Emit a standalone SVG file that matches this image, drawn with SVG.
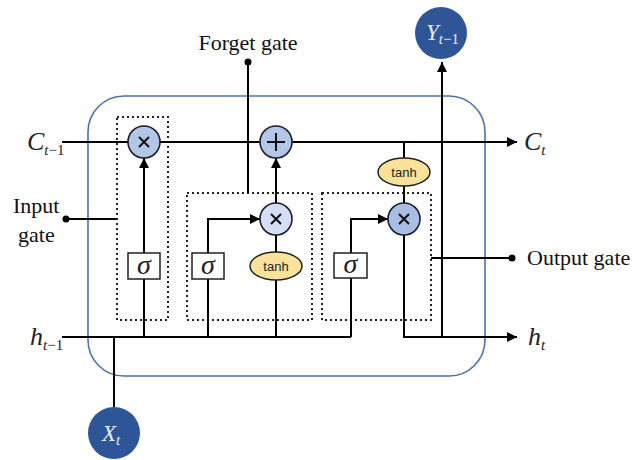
<svg xmlns="http://www.w3.org/2000/svg" width="632" height="460" viewBox="0 0 632 460">
<defs>
<marker id="ah" viewBox="0 0 10 10" refX="10" refY="5" markerWidth="10" markerHeight="10" markerUnits="userSpaceOnUse" orient="auto">
<path d="M0,0 L10,5 L0,10 Z" fill="#000"/>
</marker>
<style>
.ln{stroke:#000;stroke-width:2;fill:none}
.dot{stroke:#222;stroke-width:2;stroke-dasharray:2 3;fill:none}
.op{stroke:#1c1c2a;stroke-width:1.6}
.sig{fill:#fff;stroke:#222;stroke-width:1.5}
.th{fill:#fbe29a;stroke:#222;stroke-width:1.5}
.lbl{font-family:"Liberation Serif",serif;font-size:22px;fill:#111}
.var{font-family:"Liberation Serif",serif;font-style:italic;font-size:26px;fill:#222}
.sub{font-size:15px}
.up{font-style:normal}
.tanh{font-family:"Liberation Sans",sans-serif;font-size:13px;fill:#222;text-anchor:middle}
.sg{font-family:"Liberation Serif",serif;font-style:italic;font-size:28px;fill:#222;text-anchor:middle}
.big{fill:#2d5597}
.bt{font-family:"Liberation Serif",serif;font-style:italic;font-size:23px;fill:#e8eef8}
</style>
</defs>
<rect width="632" height="460" fill="#fff"/>
<rect x="88" y="96" width="397" height="280" rx="36" ry="36" fill="none" stroke="#4e72a8" stroke-width="1.6"/>
<g id="boxes">
<rect class="dot" x="117" y="117" width="51" height="203"/>
<rect class="dot" x="187" y="193" width="125" height="127"/>
<rect class="dot" x="322" y="193" width="109" height="127"/>
</g>
<g id="connectors">
<path class="ln" d="M62,142 H517" marker-end="url(#ah)"/>
<path class="ln" d="M62,337 H351"/>
<path class="ln" d="M114,337 V407"/>
<path class="ln" d="M144,337 V279"/>
<path class="ln" d="M144,253 V158" marker-end="url(#ah)"/>
<path class="ln" d="M208,337 V279"/>
<path class="ln" d="M208,253 V219 H260" marker-end="url(#ah)"/>
<path class="ln" d="M276,337 V280"/>
<path class="ln" d="M276,252 V235"/>
<path class="ln" d="M276,203 V158" marker-end="url(#ah)"/>
<path class="ln" d="M351,337 V278"/>
<path class="ln" d="M351,253 V219 H388" marker-end="url(#ah)"/>
<path class="ln" d="M404,142 V158"/>
<path class="ln" d="M404,186 V203"/>
<path class="ln" d="M404,235 V337 H517" marker-end="url(#ah)"/>
<path class="ln" d="M442,337 V62" marker-end="url(#ah)"/>
<path class="ln" d="M248,62 V193"/>
<circle cx="248" cy="62" r="3.5" fill="#000"/>
<path class="ln" d="M66,219 H117"/>
<circle cx="66" cy="219" r="3.5" fill="#000"/>
<path class="ln" d="M431,258 H512"/>
<circle cx="512" cy="258" r="3.5" fill="#000"/>
</g>
<g id="mul1">
<circle class="op" cx="144" cy="142" r="16" fill="#b4c6e7"/>
<path d="M139,137 L149,147 M149,137 L139,147" stroke="#111" stroke-width="2"/>
</g>
<g id="plus">
<circle class="op" cx="276" cy="142" r="16" fill="#b4c6e7"/>
<path d="M276,133 V151 M267,142 H285" stroke="#111" stroke-width="2"/>
</g>
<g id="mul2">
<circle class="op" cx="276" cy="219" r="16" fill="#d3def4"/>
<path d="M271,214 L281,224 M281,214 L271,224" stroke="#111" stroke-width="2"/>
</g>
<g id="mul3">
<circle class="op" cx="404" cy="219" r="16" fill="#a9bee4"/>
<path d="M399,214 L409,224 M409,214 L399,224" stroke="#111" stroke-width="2"/>
</g>
<g id="sigma1">
<rect class="sig" x="128" y="253" width="32" height="26"/>
<text class="sg" x="144" y="274">σ</text>
</g>
<g id="sigma2">
<rect class="sig" x="192" y="253" width="32" height="26"/>
<text class="sg" x="208" y="274">σ</text>
</g>
<g id="sigma3">
<rect class="sig" x="334" y="253" width="33" height="25"/>
<text class="sg" x="350.5" y="273">σ</text>
</g>
<g id="tanh1">
<ellipse class="th" cx="276" cy="266" rx="26" ry="14"/>
<text class="tanh" x="276" y="270.5">tanh</text>
</g>
<g id="tanh2">
<ellipse class="th" cx="404" cy="172" rx="26" ry="14"/>
<text class="tanh" x="404" y="176.5">tanh</text>
</g>
<g id="Y">
<circle class="big" cx="441" cy="33" r="26"/>
<text class="bt" x="426" y="40">Y<tspan class="sub" dy="4">t</tspan><tspan class="sub up">−1</tspan></text>
</g>
<g id="X">
<circle class="big" cx="114" cy="433" r="26"/>
<text class="bt" x="102" y="441">X<tspan class="sub" dy="4">t</tspan></text>
</g>
<g id="labels">
<text class="lbl" x="248" y="50" text-anchor="middle">Forget gate</text>
<text class="lbl" x="13" y="213">Input</text>
<text class="lbl" x="18" y="242">gate</text>
<text class="lbl" x="527" y="265">Output gate</text>
<text class="var" x="27" y="150">C<tspan class="sub" dy="5">t</tspan><tspan class="sub up">−1</tspan></text>
<text class="var" x="524" y="150">C<tspan class="sub" dy="5">t</tspan></text>
<text class="var" x="30" y="345">h<tspan class="sub" dy="5">t</tspan><tspan class="sub up">−1</tspan></text>
<text class="var" x="528" y="345">h<tspan class="sub" dy="5">t</tspan></text>
</g>
</svg>
